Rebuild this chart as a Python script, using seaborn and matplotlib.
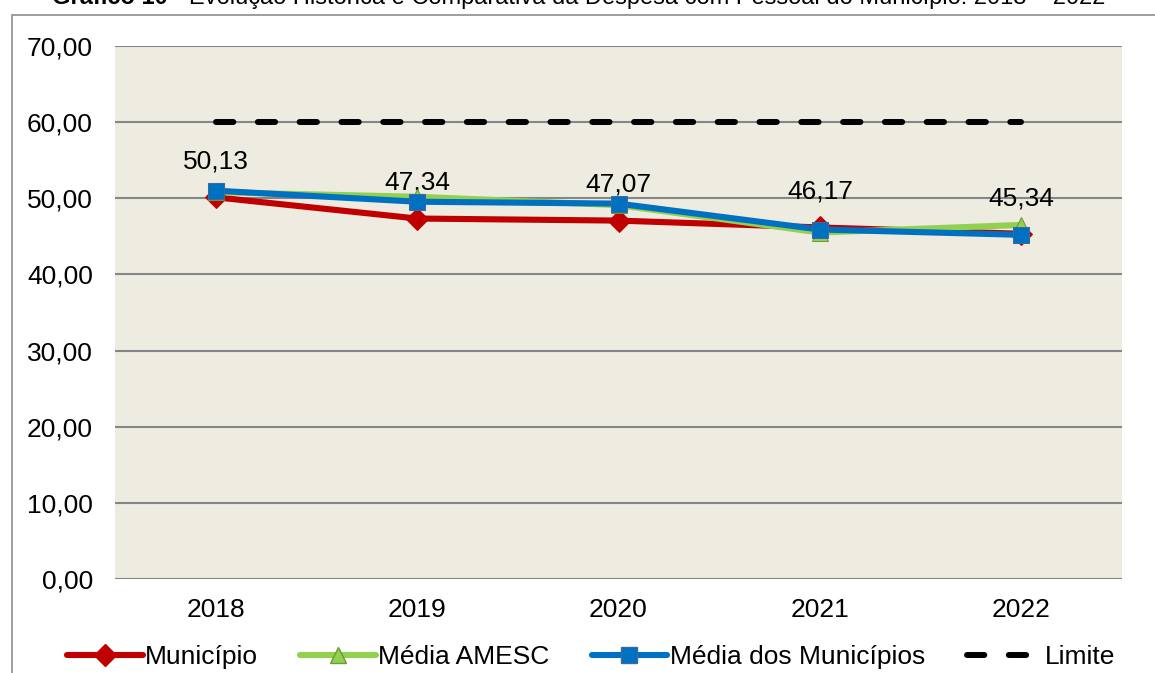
"""Gráfico 10 - despesa com pessoal do município, 2018-2022."""
import matplotlib
matplotlib.use("Agg")
import matplotlib.pyplot as plt
from matplotlib.lines import Line2D
from matplotlib.patches import Rectangle
import numpy as np
import pandas as pd
import seaborn as sns

anos = ["2018", "2019", "2020", "2021", "2022"]
municipio = [50.13, 47.34, 47.07, 46.17, 45.34]
media_amesc = [50.8, 50.2, 49.1, 45.5, 46.5]
media_municipios = [51.0, 49.55, 49.3, 45.9, 45.2]
limite = [60.0, 60.0, 60.0, 60.0, 60.0]

sns.set_style("white")
plt.rcParams["font.family"] = ["Liberation Sans", "DejaVu Sans"]
plt.rcParams["text.color"] = "black"
plt.rcParams["xtick.color"] = "black"
plt.rcParams["ytick.color"] = "black"

pos = np.arange(len(anos))
df = pd.DataFrame({"pos": pos, "Município": municipio, "Média AMESC": media_amesc,
                   "Média dos Municípios": media_municipios, "Limite": limite})

fig = plt.figure(figsize=(11.55, 6.73), dpi=100)
ax = fig.add_axes([115 / 1155, 1 - 579 / 673, 1007 / 1155, 533 / 673])
ax.set_facecolor("#EEEBE0")

# outer frame of the chart object
fig.patches.append(Rectangle((12 / 1155, -0.01), 1.0, 1 - 15 / 673 + 0.01,
                             transform=fig.transFigure, fill=False,
                             edgecolor="#8C8C8C", linewidth=1.2, zorder=0))

lw = 4.4
lw_lim = 4.3
ms = 11
dash = [2.9, 4.1]
sns.lineplot(data=df, x="pos", y="Limite", ax=ax, color="black", linewidth=lw_lim,
             dashes=False, zorder=2)
ax.lines[-1].set_dashes(dash)
ax.lines[-1].set_dash_capstyle("round")

sns.lineplot(data=df, x="pos", y="Município", ax=ax, color="#C00000", linewidth=lw,
             marker="D", markersize=ms, markeredgecolor="#C00000", zorder=3)
sns.lineplot(data=df, x="pos", y="Média AMESC", ax=ax, color="#92D050", linewidth=lw,
             marker="^", markersize=ms, markeredgecolor="#6E9A3A", zorder=4)
sns.lineplot(data=df, x="pos", y="Média dos Municípios", ax=ax, color="#0070C0",
             linewidth=lw, marker="s", markersize=ms, markeredgecolor="#3C6A9A", zorder=5)

for x, v in zip(pos, municipio):
    ax.annotate(f"{v:.2f}".replace(".", ","), (x, v), xytext=(0, 17),
                textcoords="offset points", ha="center", va="bottom", fontsize=19,
                color="black")

ax.set_xlim(-0.5, len(anos) - 0.5)
ax.set_ylim(0, 70)
ax.set_xticks(pos)
ax.set_xticklabels(anos)
ax.set_yticks(np.arange(0, 71, 10))
ax.set_yticklabels([f"{t:.2f}".replace(".", ",") for t in np.arange(0, 71, 10)])
ax.tick_params(axis="y", length=0, labelsize=19, pad=16, labelcolor="black")
ax.tick_params(axis="x", length=0, labelsize=19, pad=14, labelcolor="black")
ax.grid(axis="y", color="#868686", linewidth=1.5)
ax.set_axisbelow(True)
ax.set_xlabel("")
ax.set_ylabel("")
for s in ax.spines.values():
    s.set_visible(False)

handles = [
    Line2D([], [], color="#C00000", linewidth=lw, marker="D", markersize=ms,
           markeredgecolor="#C00000"),
    Line2D([], [], color="#92D050", linewidth=lw, marker="^", markersize=ms,
           markeredgecolor="#6E9A3A"),
    Line2D([], [], color="#0070C0", linewidth=lw, marker="s", markersize=ms,
           markeredgecolor="#3C6A9A"),
    Line2D([], [], color="black", linewidth=lw_lim, dashes=dash,
           dash_capstyle="round"),
]
fig.legend(handles, ["Município", "Média AMESC", "Média dos Municípios", "Limite"],
           loc="center", bbox_to_anchor=(0.512, 1 - 657 / 673), ncol=4, frameon=False,
           fontsize=19, handlelength=2.85, handletextpad=0.1, columnspacing=1.6,
           labelcolor="black")

# title, clipped at the top edge like in the source
t1 = fig.text(52 / 1155, 1 - 4 / 673, "Gráfico 10 - ", ha="left", va="baseline",
              fontsize=17, fontweight="bold", color="black")
fig.canvas.draw()
bb = t1.get_window_extent()
fig.text(bb.x1 / fig.bbox.width, 1 - 4 / 673,
         "Evolução Histórica e Comparativa da Despesa com Pessoal do Município: 2018 – 2022",
         ha="left", va="baseline", fontsize=17, color="black")

fig.savefig("out.png", dpi=100)
